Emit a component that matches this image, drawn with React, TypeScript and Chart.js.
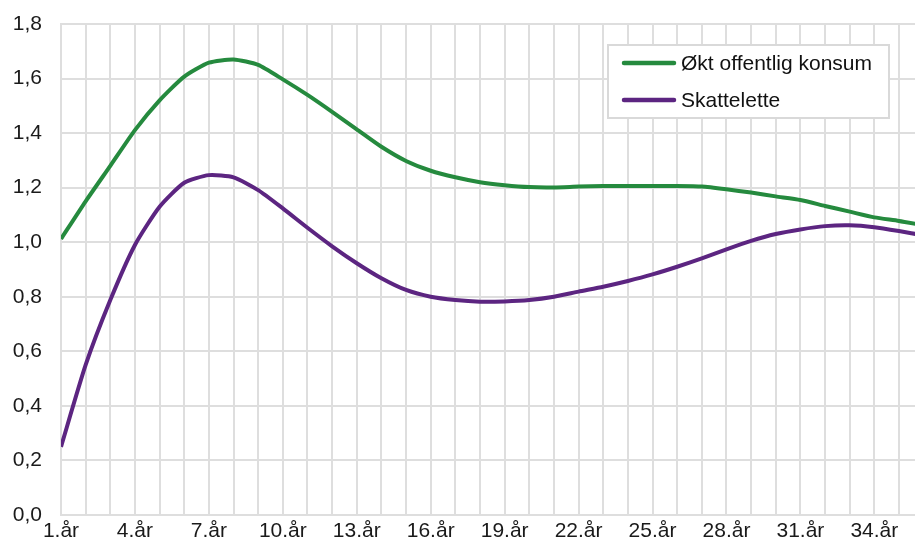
import React, { useEffect, useRef } from "react";
import { Chart, registerables } from "chart.js";

Chart.register(...registerables);

const years = [
  "1.år", "2.år", "3.år", "4.år", "5.år", "6.år", "7.år", "8.år", "9.år", "10.år",
  "11.år", "12.år", "13.år", "14.år", "15.år", "16.år", "17.år", "18.år", "19.år", "20.år",
  "21.år", "22.år", "23.år", "24.år", "25.år", "26.år", "27.år", "28.år", "29.år", "30.år",
  "31.år", "32.år", "33.år", "34.år", "35.år", "36.år",
];

const offentligKonsum = [
  1.012, 1.15, 1.28, 1.411, 1.52, 1.607, 1.658, 1.67, 1.65, 1.597,
  1.54, 1.478, 1.414, 1.35, 1.298, 1.262, 1.238, 1.22, 1.209, 1.202,
  1.201, 1.204, 1.206, 1.206, 1.206, 1.206, 1.204, 1.194, 1.182, 1.168,
  1.155, 1.133, 1.112, 1.091, 1.078, 1.062,
];

const skattelette = [
  0.25, 0.55, 0.788, 0.99, 1.13, 1.218, 1.246, 1.238, 1.191, 1.124,
  1.053, 0.985, 0.923, 0.868, 0.825, 0.8, 0.788, 0.782, 0.783, 0.788,
  0.8, 0.819, 0.837, 0.858, 0.882, 0.91, 0.941, 0.974, 1.005, 1.03,
  1.047, 1.059, 1.062, 1.055, 1.041, 1.025,
];

const seriesNames = ["Økt offentlig konsum", "Skattelette"];
const seriesColors = ["#258a3e", "#5c2581"];

const FONT = "'Liberation Sans', Arial, sans-serif";

const legendPlugin = {
  id: "boxLegend",
  afterDatasetsDraw(chart: any) {
    const ctx = chart.ctx;
    const x0 = 608, y0 = 45, w = 281, h = 73;
    ctx.save();
    ctx.fillStyle = "#ffffff";
    ctx.fillRect(x0, y0, w, h);
    ctx.strokeStyle = "#d9d9d9";
    ctx.lineWidth = 2;
    ctx.strokeRect(x0, y0, w, h);
    const rows = [63, 100];
    chart.data.datasets.forEach((ds: any, i: number) => {
      const y = rows[i];
      ctx.strokeStyle = ds.borderColor;
      ctx.lineWidth = 4.5;
      ctx.lineCap = "round";
      ctx.beginPath();
      ctx.moveTo(624, y);
      ctx.lineTo(674, y);
      ctx.stroke();
      ctx.fillStyle = "#111";
      ctx.font = "21px " + FONT;
      ctx.textBaseline = "middle";
      ctx.textAlign = "left";
      ctx.fillText(ds.label, 681, y + 1);
    });
    ctx.restore();
  },
};

export default function App() {
  const ref = useRef<HTMLCanvasElement | null>(null);
  useEffect(() => {
    document.body.style.margin = "0";
    if (!ref.current) return;
    const series = [offentligKonsum, skattelette];
    const chart = new Chart(ref.current, {
      type: "line",
      data: {
        datasets: series.map((vals, si) => ({
          label: seriesNames[si],
          data: vals.map((v, i) => ({ x: i + 1, y: v })),
          borderColor: seriesColors[si],
          backgroundColor: seriesColors[si],
          borderWidth: 4,
          pointRadius: 0,
          tension: 0.2,
          fill: false,
        })),
      },
      options: {
        animation: false,
        responsive: false,
        maintainAspectRatio: false,
        layout: { padding: { top: 24, right: 0, left: 0, bottom: 0 } },
        plugins: {
          legend: { display: false },
          tooltip: { enabled: false },
        },
        scales: {
          x: {
            type: "linear",
            min: 1,
            max: 35.65,
            afterBuildTicks: (scale: any) => {
              scale.ticks = years
                .map((_, i) => ({ value: i + 1 }))
                .filter((t) => t.value <= 35.65);
            },
            afterFit: (scale: any) => {
              scale.height = 27;
              scale.paddingLeft = 0;
              scale.paddingRight = 0;
            },
            grid: { color: "#dedede", lineWidth: 2, drawTicks: false },
            border: { color: "#dedede", width: 2 },
            ticks: {
              autoSkip: false,
              maxRotation: 0,
              padding: 4,
              color: "#1a1a1a",
              font: { family: FONT, size: 21 },
              callback: (v: any) => {
                const idx = Math.round(Number(v)) - 1;
                return idx % 3 === 0 ? years[idx] : "";
              },
            },
          },
          y: {
            min: 0,
            max: 1.8,
            afterFit: (scale: any) => {
              scale.width = 61;
              scale.paddingTop = 0;
              scale.paddingBottom = 0;
            },
            grid: { color: "#dedede", lineWidth: 2, drawTicks: false },
            border: { color: "#dedede", width: 2 },
            ticks: {
              stepSize: 0.2,
              padding: 19,
              color: "#1a1a1a",
              font: { family: FONT, size: 21 },
              callback: (v: any) => Number(v).toFixed(1).replace(".", ","),
            },
          },
        },
      },
      plugins: [legendPlugin],
    });
    return () => chart.destroy();
  }, []);
  return (
    <div style={{ width: 915, height: 542, overflow: "hidden", background: "#fff" }}>
      <canvas ref={ref} width={915} height={542} style={{ display: "block" }} />
    </div>
  );
}
